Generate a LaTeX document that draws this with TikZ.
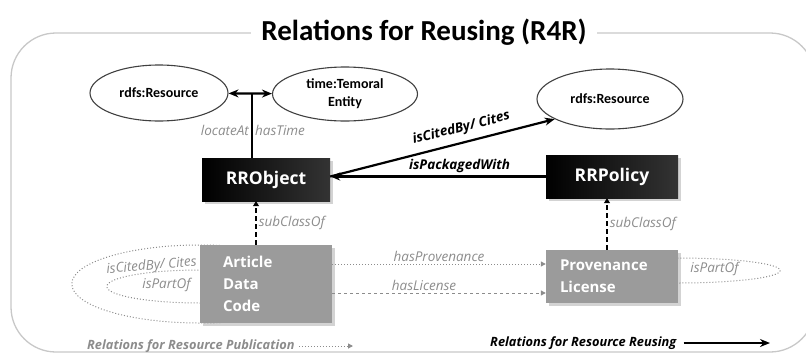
\documentclass[tikz,border=0pt]{standalone}
\usepackage{fontspec}
\setmainfont{Open Sans}
\newfontfamily\calfont{Carlito}
\usetikzlibrary{arrows.meta,shapes.geometric,shadows,backgrounds}
\definecolor{boxgray}{HTML}{9B9B9B}
\definecolor{lblgray}{HTML}{8C8C8C}
\definecolor{framegray}{HTML}{C8C8C8}

\begin{document}
\begin{tikzpicture}[x=1pt,y=-1pt,every node/.style={inner sep=2pt},>={Stealth[length=10pt,width=8pt]},
  res/.style={ellipse,draw=black!75,line width=1.1pt,minimum width=138pt,minimum height=56pt,align=center,
    font=\calfont\bfseries\fontsize{14}{18}\selectfont},
  robj/.style={left color=black,right color=black!80,minimum width=128pt,minimum height=43pt,text=white,
    font=\bfseries\fontsize{17.5}{20}\selectfont,drop shadow={opacity=.35}},
  gbox/.style={fill=boxgray,text=white,align=left,font=\bfseries\fontsize{15}{22}\selectfont,drop shadow={opacity=.35}},
  lbl/.style={text=lblgray,font=\itshape\fontsize{13.5}{15}\selectfont},
  relbl/.style={inner sep=.5pt,font=\bfseries\itshape\fontsize{13.5}{15}\selectfont},
  keylbl/.style={font=\bfseries\itshape\fontsize{12.8}{14}\selectfont,anchor=west},
  rel/.style={line width=2.2pt},
  pub/.style={draw=lblgray,line width=1pt,dotted,-{Triangle[length=5pt,width=5pt]}},
  lic/.style={draw=lblgray,line width=1pt,dashed,-{Triangle[length=5pt,width=5pt]}},
  sub/.style={line width=1.6pt,dash pattern=on 5pt off 3pt,-{Triangle[length=5pt,width=6pt]}}]
\useasboundingbox (0,0) rectangle (806,354);
\draw[framegray,line width=1.3pt,rounded corners=45pt] (11,33) rectangle (815,352);
\node[fill=white,inner xsep=10pt,anchor=base,font=\calfont\bfseries\fontsize{29}{30}\selectfont] (title) at (424,40) {Relations for Reusing (R4R)};
% classes
\node[res] (res1) at (159,93) {rdfs:Resource};
\node[res,minimum width=145pt,minimum height=54pt] (time) at (345,94) {time:Temoral\\Entity};
\node[res,minimum width=146pt,minimum height=60pt] (res2) at (610,99) {rdfs:Resource};
\node[robj] (rro) at (266,179.5) {RRObject};
\node[robj,minimum width=132pt] (rrp) at (612,176.5) {RRPolicy};
\node[gbox,minimum height=78pt,text width=86pt,inner xsep=23pt] (art) at (266,284) {Article\\Data\\Code};
\node[gbox,minimum height=53pt,text width=104pt,inner xsep=14pt] (prov) at (612,276.5) {Provenance\\License};
% reusing relations
\draw[rel,<->] (res1)--(time);
\draw[rel] ([xshift=-14pt]rro.north)--([xshift=-14pt]rro.north|-res1)
  node[lbl,pos=.42,left]{locateAt} node[lbl,pos=.42,right]{hasTime};
\coordinate (hub) at (rrp.west-|rro.east);
\draw[rel,->] (rrp.west)--(hub) node[relbl,pos=.4,above=2pt]{isPackagedWith};
\draw[rel,->] (hub)--(res2.200) node[relbl,pos=.6,above=6pt,sloped]{isCitedBy/ Cites};
\draw[sub] ([xshift=-10pt]art.north)--([xshift=-10pt]rro.south) node[lbl,midway,right]{subClassOf};
\draw[sub] ([xshift=-5pt]prov.north)--([xshift=-5pt]rrp.south) node[lbl,midway,right]{subClassOf};
% publication relations
\draw[pub] ([yshift=20pt]art.east)--([yshift=20pt]art.east-|prov.west) node[lbl,midway,above]{hasProvenance};
\draw[lic] ([yshift=-9pt]art.east)--([yshift=-9pt]art.east-|prov.west) node[lbl,pos=.43,above]{hasLicense};
\begin{scope}[on background layer]
\draw[pub,-] (art.west) ellipse [x radius=128,y radius=39];
\draw[pub,-] ([yshift=-2.5pt]art.west) ellipse [x radius=93,y radius=16.5];
\draw[pub,-] ([yshift=6pt]prov.east) ellipse [x radius=102,y radius=12.5];
\end{scope}
\node[lbl,rotate=5,anchor=east] at ([xshift=-1pt,yshift=22pt]art.west) {isCitedBy/ Cites};
\node[lbl,anchor=east] at ([xshift=-7pt,yshift=-1pt]art.west) {isPartOf};
\node[lbl,anchor=west] at ([xshift=10pt,yshift=8pt]prov.east) {isPartOf};
% legend
\node[keylbl,text=lblgray] (pubkey) at (85,346) {Relations for Resource Publication};
\coordinate (pubend) at (353,346);
\draw[pub,shorten <=2pt] (pubkey)--(pubend);
\node[keylbl] (reukey) at (488,343) {Relations for Resource Reusing};
\coordinate (reuend) at (770,343);
\draw[rel,->,shorten <=5pt] (reukey)--(reuend);
\end{tikzpicture}
\end{document}
